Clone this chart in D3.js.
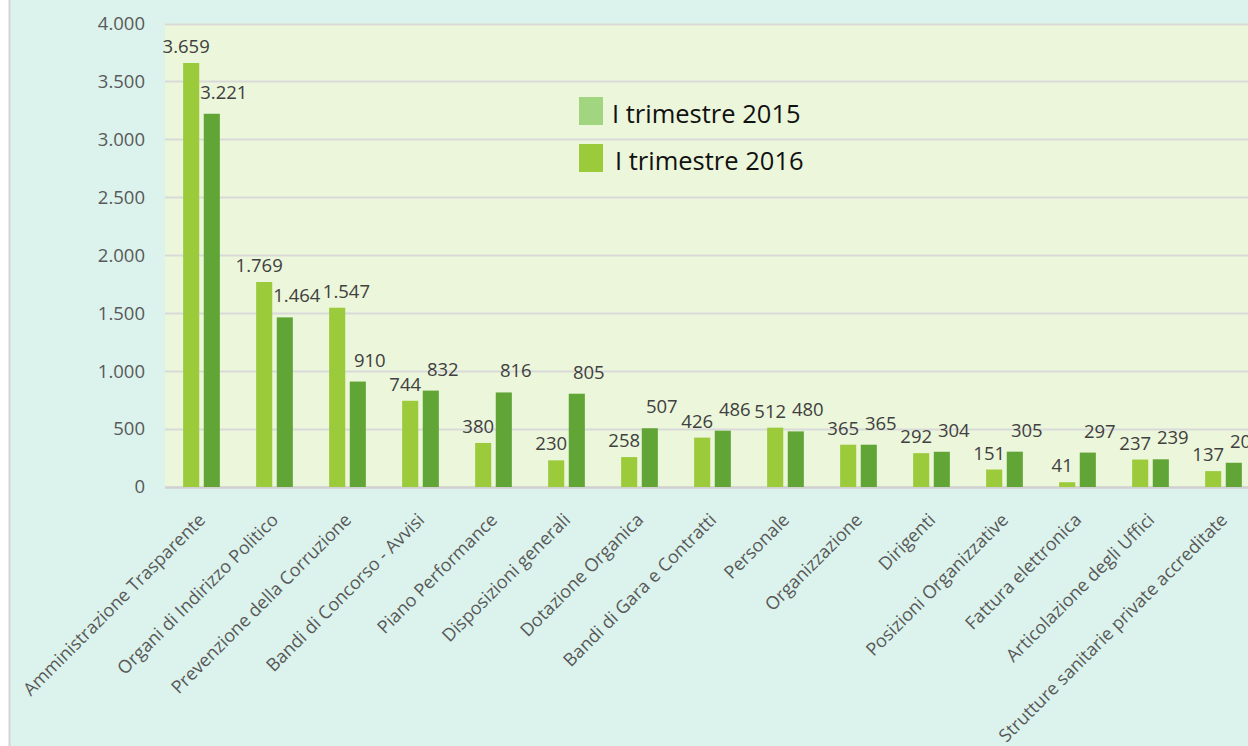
<!DOCTYPE html>
<html><head><meta charset="utf-8">
<script src="https://cdn.jsdelivr.net/npm/d3@7"></script>
<style>
html,body{margin:0;padding:0;background:#ffffff;}
svg{display:block;}
</style></head>
<body><svg id="c" width="1248" height="746"></svg>
<script>
const categories = ["Amministrazione Trasparente","Organi di Indirizzo Politico","Prevenzione della Corruzione","Bandi di Concorso - Avvisi","Piano Performance","Disposizioni generali","Dotazione Organica","Bandi di Gara e Contratti","Personale","Organizzazione","Dirigenti","Posizioni Organizzative","Fattura elettronica","Articolazione degli Uffici","Strutture sanitarie private accreditate"];
const values2015 = [3659,1769,1547,744,380,230,258,426,512,365,292,151,41,237,137];
const values2016 = [3221,1464,910,832,816,805,507,486,480,365,304,305,297,239,209];
const seriesNames = ["I trimestre 2015","I trimestre 2016"];
const yTicks = [0,500,1000,1500,2000,2500,3000,3500,4000];

const svg = d3.select("#c");
const W = 1248, H = 746;
const plot = {x0:165, x1:1260, y0:23.5, y1:487};

const locale = d3.formatLocale({decimal:",", thousands:".", grouping:[3], currency:["€",""]});
const fmt = locale.format(",d");

// outer chart area
svg.append("rect").attr("x",9.5).attr("y",-2).attr("width",W).attr("height",H+4)
  .attr("fill","#dbf3ec").attr("stroke","#d4d4d4").attr("stroke-width",2);

const x = d3.scaleBand().domain(categories).range([plot.x0, plot.x1]).paddingInner(0).paddingOuter(0);
const y = d3.scaleLinear().domain([0,4000]).range([plot.y1, plot.y0]);

// plot background
svg.append("rect").attr("x",plot.x0).attr("y",plot.y0).attr("width",plot.x1-plot.x0).attr("height",plot.y1-plot.y0)
  .attr("fill","#ebf6da");

// gridlines
svg.append("g").selectAll("line").data(yTicks).join("line")
  .attr("x1",plot.x0).attr("x2",plot.x1)
  .attr("y1",d=>Math.round(y(d))+0.5).attr("y2",d=>Math.round(y(d))+0.5)
  .attr("stroke",d=>d===0?"#d0d0d0":"#d9d9d9").attr("stroke-width",d=>d===0?2.5:2);

// y axis labels
const yAxis = d3.axisLeft(y).tickValues(yTicks).tickFormat(fmt).tickSize(0).tickPadding(20);
const ya = svg.append("g").attr("transform",`translate(${plot.x0},0)`).call(yAxis);
ya.select(".domain").remove();
ya.selectAll("text").attr("font-family","Open Sans").attr("font-size",18.5).attr("fill","#595959");

// bars
const sub = d3.scaleBand().domain([0,1]).range([0,x.bandwidth()]).paddingInner(0.22).paddingOuter(0.88);
const colors = ["#9bca3b","#62a537"];
const series = [values2015, values2016];
const gBars = svg.append("g");
series.forEach((vals,si)=>{
  gBars.selectAll(null).data(vals).join("rect")
    .attr("x",(d,i)=>x(categories[i])+sub(si))
    .attr("width",sub.bandwidth())
    .attr("y",d=>y(d))
    .attr("height",d=>y(0)-y(d))
    .attr("fill",colors[si]);
});

// value labels, placed in reading order with simple collision avoidance
const gLab = svg.append("g").attr("font-family","Open Sans").attr("font-size",18.5).attr("fill","#404040").attr("text-anchor","middle");
const labelItems = [];
categories.forEach((c,i)=>{
  series.forEach((vals,si)=>{
    labelItems.push({v:vals[i], cx:x(c)+sub(si)+sub.bandwidth()/2 + (si===0?-5:12), by:y(vals[i])-(si===0?10:15)});
  });
});
let prev = null;
labelItems.forEach(it=>{
  const t = gLab.append("text").attr("x",it.cx).attr("y",it.by).text(fmt(it.v));
  let b = t.node().getBBox();
  if(prev && b.x < prev.x+prev.width+2 && b.y < prev.y+prev.height && b.y+b.height > prev.y){
    const shift = prev.x+prev.width+2 - b.x;
    t.attr("x", it.cx+shift);
    b = t.node().getBBox();
  }
  prev = b;
});

// x labels
const gX = svg.append("g").attr("font-family","Open Sans").attr("font-size",18).attr("fill","#595959");
gX.selectAll("text").data(categories).join("text")
  .attr("text-anchor","end")
  .attr("transform",d=>`translate(${x(d)+x.bandwidth()/2+5},${plot.y1+34}) rotate(-45)`)
  .text(d=>d);

// legend
const legColors = ["#a1d57f","#9bca3b"];
const leg = svg.append("g");
seriesNames.forEach((n,i)=>{
  leg.append("rect").attr("x",579).attr("y",97+i*47).attr("width",24).attr("height",28).attr("fill",legColors[i]);
  leg.append("text").attr("x",612+i*3).attr("y",123+i*47).attr("font-family","Open Sans").attr("font-size",25.5).attr("fill","#111")
    .text(n);
});
</script></body></html>
